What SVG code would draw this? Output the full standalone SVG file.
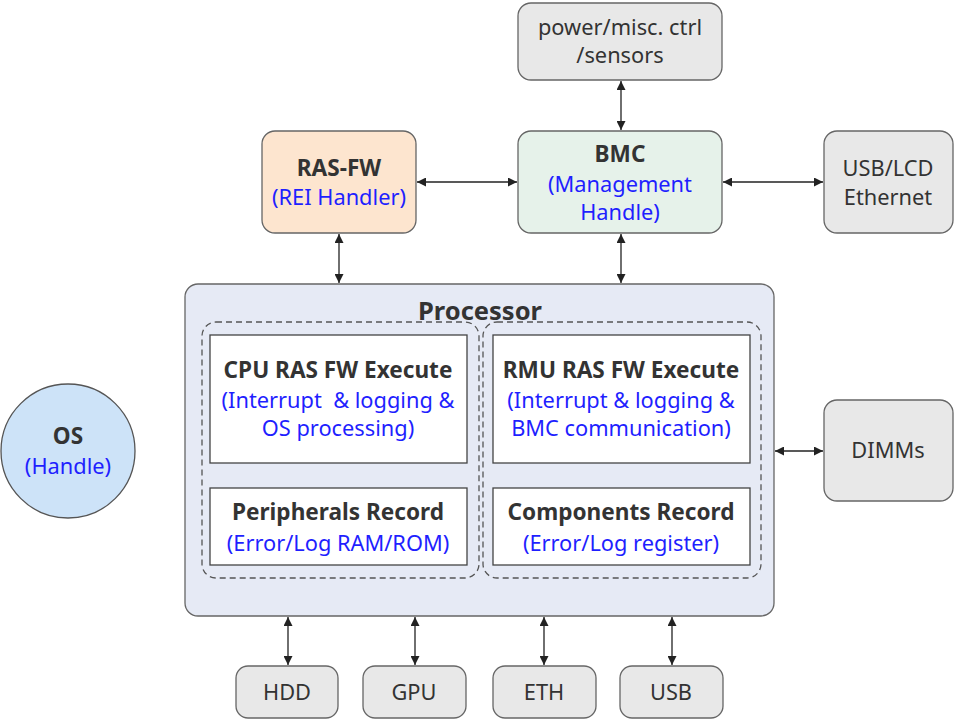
<svg xmlns="http://www.w3.org/2000/svg" width="954" height="720" viewBox="0 0 954 720">
<style>
.t{font-family:"Noto Sans","Open Sans","DejaVu Sans",sans-serif;font-size:21.8px;text-anchor:middle;fill:#333}
.b{font-weight:bold;font-size:22.6px}
.blue{fill:#1f1fff}
.grey{fill:#e8e8e8;stroke:#666;stroke-width:1.3}
.inner{fill:#fff;stroke:#444;stroke-width:1.3}
.dash{fill:none;stroke:#555;stroke-width:1.3;stroke-dasharray:6 4}
.c{stroke:#222;stroke-width:1.3;fill:none;marker-start:url(#ah);marker-end:url(#ah)}
</style>
<defs>
<marker id="ah" viewBox="0 0 10 10" refX="10" refY="5" markerWidth="9" markerHeight="9" markerUnits="userSpaceOnUse" orient="auto-start-reverse">
<path d="M0,0 L10,5 L0,10 z" fill="#222"/>
</marker>
</defs>
<rect width="954" height="720" fill="#fff"/>
<g id="power">
<rect class="grey" x="518" y="3" width="204" height="77" rx="13"/>
<text class="t" x="620" y="35">power/misc. ctrl</text>
<text class="t" x="620" y="63">/sensors</text>
</g>
<g id="rasfw">
<rect x="262" y="131" width="154" height="102" rx="13" fill="#fde5cf" stroke="#666" stroke-width="1.3"/>
<text class="t b" x="339" y="176">RAS-FW</text>
<text class="t blue" x="339" y="205">(REI Handler)</text>
</g>
<g id="bmc">
<rect x="518" y="131" width="204" height="102" rx="13" fill="#e6f2ea" stroke="#666" stroke-width="1.3"/>
<text class="t b" x="620" y="162">BMC</text>
<text class="t blue" x="620" y="192">(Management</text>
<text class="t blue" x="620" y="220">Handle)</text>
</g>
<g id="usblcd">
<rect class="grey" x="824" y="131" width="129" height="102" rx="13"/>
<text class="t" x="888" y="176">USB/LCD</text>
<text class="t" x="888" y="205">Ethernet</text>
</g>
<g id="processor">
<rect x="185" y="284" width="589" height="332" rx="13" fill="#e6eaf5" stroke="#666" stroke-width="1.3"/>
<text class="t b" x="480" y="320" style="font-size:25.5px">Processor</text>
<rect class="dash" x="202" y="322" width="277" height="256" rx="14"/>
<rect class="dash" x="483" y="322" width="278" height="256" rx="14"/>
</g>
<g id="cpu">
<rect class="inner" x="210" y="335" width="257" height="128"/>
<text class="t b" x="338" y="378">CPU RAS FW Execute</text>
<text class="t blue" x="338" y="408" xml:space="preserve">(Interrupt  &amp; logging &amp;</text>
<text class="t blue" x="338" y="436">OS processing)</text>
</g>
<g id="rmu">
<rect class="inner" x="493" y="335" width="257" height="128"/>
<text class="t b" x="621" y="378">RMU RAS FW Execute</text>
<text class="t blue" x="621" y="408">(Interrupt &amp; logging &amp;</text>
<text class="t blue" x="621" y="436">BMC communication)</text>
</g>
<g id="peripherals">
<rect class="inner" x="210" y="488" width="257" height="77"/>
<text class="t b" x="338" y="520">Peripherals Record</text>
<text class="t blue" x="338" y="551">(Error/Log RAM/ROM)</text>
</g>
<g id="components">
<rect class="inner" x="493" y="488" width="257" height="77"/>
<text class="t b" x="621" y="520">Components Record</text>
<text class="t blue" x="621" y="551">(Error/Log register)</text>
</g>
<g id="os">
<circle cx="68" cy="451" r="67" fill="#cde3f8" stroke="#555" stroke-width="1.3"/>
<text class="t b" x="68" y="444">OS</text>
<text class="t blue" x="68" y="474">(Handle)</text>
</g>
<g id="dimms">
<rect class="grey" x="824" y="400" width="129" height="101" rx="13"/>
<text class="t" x="888" y="458">DIMMs</text>
</g>
<g id="hdd">
<rect class="grey" x="236" y="666" width="102" height="52" rx="12"/>
<text class="t" x="287" y="700">HDD</text>
</g>
<g id="gpu">
<rect class="grey" x="363" y="666" width="103" height="52" rx="12"/>
<text class="t" x="414" y="700">GPU</text>
</g>
<g id="eth">
<rect class="grey" x="493" y="666" width="103" height="52" rx="12"/>
<text class="t" x="544" y="700">ETH</text>
</g>
<g id="usb">
<rect class="grey" x="620" y="666" width="103" height="52" rx="12"/>
<text class="t" x="671" y="700">USB</text>
</g>
<g id="connectors">
<line class="c" x1="621" y1="81" x2="621" y2="130"/>
<line class="c" x1="417" y1="182" x2="517" y2="182"/>
<line class="c" x1="723" y1="182" x2="823" y2="182"/>
<line class="c" x1="339" y1="234" x2="339" y2="283"/>
<line class="c" x1="621" y1="234" x2="621" y2="283"/>
<line class="c" x1="775" y1="451" x2="823" y2="451"/>
<line class="c" x1="288" y1="617" x2="288" y2="665"/>
<line class="c" x1="415" y1="617" x2="415" y2="665"/>
<line class="c" x1="544" y1="617" x2="544" y2="665"/>
<line class="c" x1="672" y1="617" x2="672" y2="665"/>
</g>
</svg>
